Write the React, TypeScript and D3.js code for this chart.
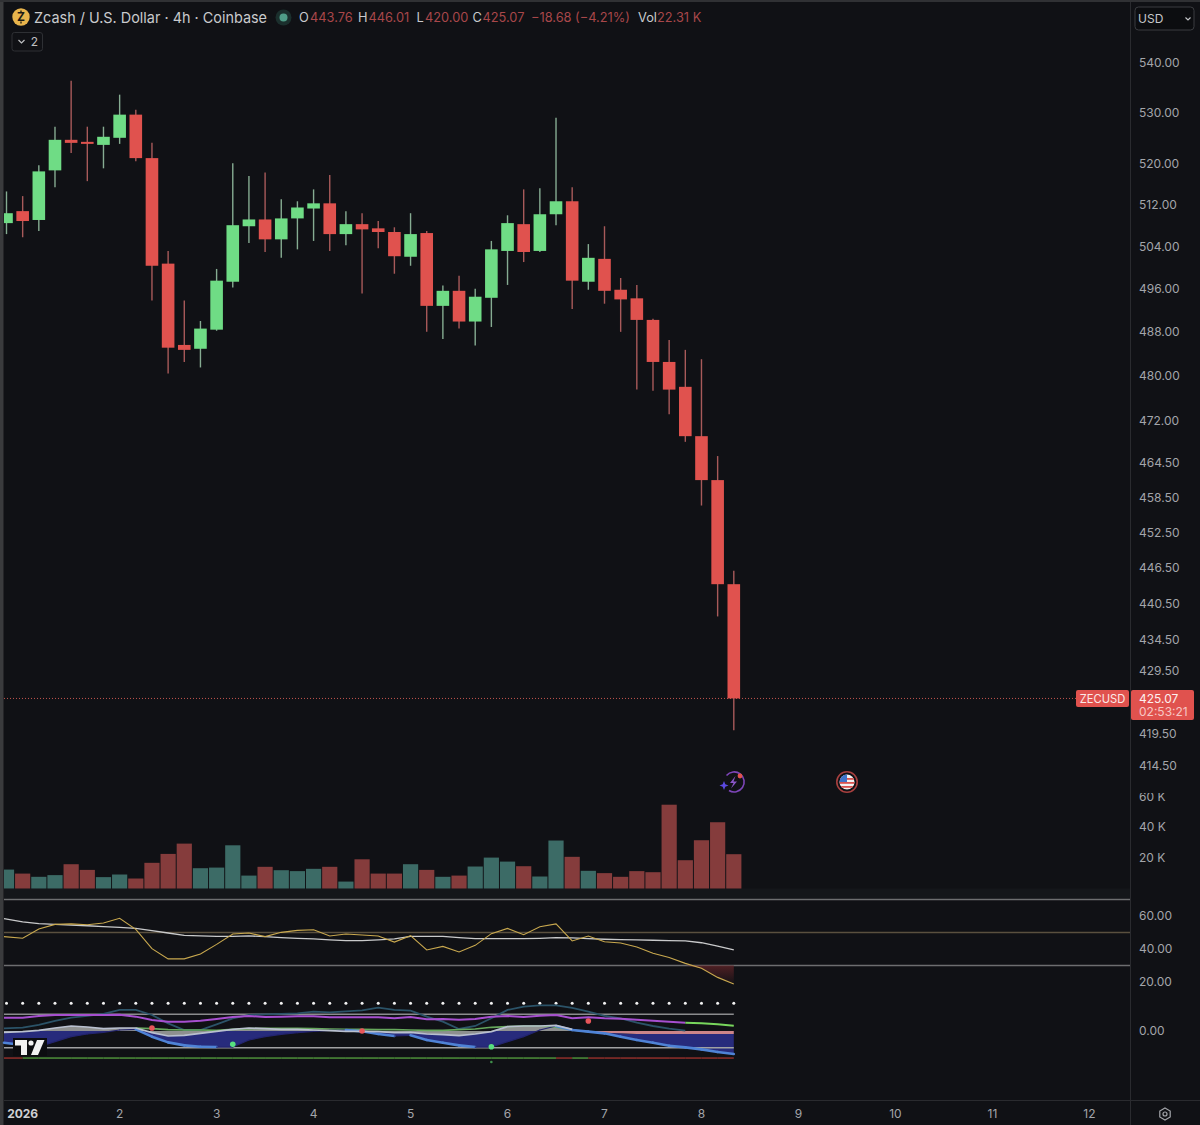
import React from 'react';
import * as d3 from 'd3';

// candles
const opens = [508.4, 510.7, 509.0, 518.6, 524.6, 524.2, 523.6, 525.0, 529.6, 521.0, 500.7, 485.6, 484.9, 488.4, 497.3, 507.8, 509.1, 505.3, 509.3, 511.2, 512.2, 506.3, 508.2, 507.4, 506.7, 502.0, 506.5, 492.8, 495.6, 489.9, 494.3, 503.1, 508.2, 503.1, 510.1, 512.6, 497.3, 501.6, 495.8, 494.2, 490.2, 482.5, 478.0, 469.2, 461.5, 443.76];
const highs = [514.5, 513.6, 519.6, 527.2, 536.4, 527.2, 527.2, 533.6, 530.6, 524.0, 503.1, 493.8, 490.0, 499.7, 520.0, 517.5, 518.2, 513.0, 512.6, 514.9, 517.7, 510.7, 510.3, 508.8, 507.6, 510.3, 506.9, 496.6, 498.4, 496.0, 505.0, 509.9, 514.9, 515.1, 529.0, 515.3, 504.4, 507.8, 498.0, 496.7, 490.4, 486.5, 484.7, 483.0, 465.7, 446.01];
const lows = [506.3, 505.7, 506.9, 515.3, 522.0, 516.5, 519.0, 523.8, 520.4, 493.8, 480.4, 482.5, 481.5, 488.2, 496.2, 504.6, 502.9, 501.8, 503.4, 505.0, 503.1, 504.2, 495.1, 503.6, 498.8, 500.3, 488.0, 486.7, 488.6, 485.5, 488.9, 496.7, 501.0, 502.9, 508.0, 492.2, 495.8, 493.2, 488.0, 477.5, 477.3, 473.1, 468.2, 457.1, 438.4, 420.0];
const closes = [510.3, 508.8, 518.4, 524.6, 524.0, 523.8, 525.2, 529.6, 521.0, 500.3, 485.1, 484.7, 488.6, 497.5, 508.0, 509.1, 505.3, 509.3, 511.4, 512.2, 506.3, 508.2, 507.2, 506.7, 502.1, 506.3, 492.8, 495.6, 489.9, 494.5, 503.4, 508.4, 502.9, 510.1, 512.6, 497.5, 501.8, 495.6, 494.0, 490.2, 482.5, 477.5, 469.2, 461.5, 443.76, 425.07];
const volumes = [12.3, 9.7, 7.6, 8.7, 15.8, 12.1, 7.4, 9.1, 6.5, 16.7, 22.5, 29.2, 13.2, 13.6, 28.1, 8.4, 14.1, 11.9, 11.3, 12.8, 14.1, 4.5, 19.0, 9.7, 9.7, 15.8, 12.1, 7.6, 8.4, 14.3, 20.1, 17.5, 14.5, 7.8, 31.2, 20.6, 11.5, 10.0, 7.6, 11.3, 10.6, 54.5, 18.4, 31.4, 43.1, 22.31];

// rsi pane
const rsi = [47.5, 46.5, 52.1, 54.9, 55.2, 54.7, 55.8, 58.6, 51.9, 40.2, 34.0, 34.0, 37.0, 42.8, 49.1, 49.7, 47.5, 50.1, 51.3, 51.7, 47.9, 49.1, 48.5, 47.9, 44.2, 48.1, 39.4, 41.6, 38.2, 42.2, 49.3, 52.5, 48.7, 53.5, 55.2, 44.9, 47.9, 44.4, 43.6, 41.2, 37.4, 34.8, 31.3, 28.3, 22.8, 18.8];
const rsiMa = [58.4, 56.4, 55.4, 54.9, 54.5, 54.1, 53.5, 53.1, 52.5, 51.1, 49.7, 48.3, 47.9, 47.7, 47.7, 47.9, 47.5, 46.9, 46.5, 46.1, 45.5, 45.1, 45.1, 45.5, 46.1, 47.7, 47.7, 47.7, 46.9, 46.3, 46.3, 46.3, 46.3, 46.5, 46.9, 46.7, 46.3, 45.9, 45.7, 45.5, 45.3, 45.1, 44.9, 43.8, 41.8, 39.4];

// oscillator pane
const purpleLine = [40, 40, 45, 48, 48, 48, 48, 49, 43, 33, 28, 28, 31, 36, 42, 45, 42, 43, 44, 44, 41, 41, 41, 41, 38, 42, 35, 36, 34, 36, 43, 45, 42, 46, 48, 38, 41, 38, 37, 34, 31, 28, 25, 23, 20, 16];
const tealLine = [8, 10, 18, 30, 40, 45, 51, 63, 63, 48, 23, 3, 3, 20, 38, 48, 50, 51, 53, 58, 56, 59, 62, 70, 63, 61, 43, 28, 6, 15, 38, 63, 73, 77, 77, 69, 58, 45, 38, 25, 15, 7, 1];
const blueLine = [-35, -42, -47, -32, -17, -9, -4, 3, 5, -17, -34, -43, -47, -48, -48, -27, -17, -10, -5, -1, 2, 3, -1, -9, -15, -13, -27, -35, -43, -48, -48, -32, -17, 3, 15, 3, -2, -7, -17, -27, -35, -44, -49, -55, -63, -69];
const paleLine = [-4, -2, 2, 9, 15, 12, 7, 9, 9, -5, -15, -13, -7, -1, 5, 9, 7, 5, 5, 3, 1, -1, -1, -2, -5, -4, -9, -11, -14, -9, -2, 13, 15, 15, 17, 5, -2, -5, -7, -9, -9, -9, -9, -9, -9, -9];
const greenLine = [null, null, null, null, null, null, null, null, 9, 7, 4, 3, 3, 2, 5, 7, 8, 8, 8, 7, 6, 5, 5, 4, 4, 3, 2, 2, 4, 6, 11, 13, 15, 15, 11, 3, -2];
const trend = 'rgggggggggggggggggggggggggggggggggrgrrrrrrrrrr';
const redSignals = [[9, 9], [22, 0], [36, 30]];
const greenSignals = [[14, -40], [30, -47]];

const priceTicks = [540, 530, 520, 512, 504, 496, 488, 480, 472, 464.5, 458.5, 452.5, 446.5, 440.5, 434.5, 429.5, 419.5, 414.5];
const volumeTicks = [60, 40, 20];
const rsiTicks = [60, 40, 20];
const rsiBands = [70, 50, 30];
const dayLabels = [[1, '2026'], [7, '2'], [13, '3'], [19, '4'], [25, '5'], [31, '6'], [37, '7'], [43, '8'], [49, '9'], [55, '10'], [61, '11'], [67, '12']] as const;

const BG = '#101115';
const UP = '#6fdc85';
const DOWN = '#e0524e';
const FONT = 'Inter, "Noto Sans", sans-serif';
const LEFT = 4; // pane edge, the series run off it

export default function App() {
  const x = d3.scaleLinear().domain([0, 45]).range([6.5, 733.8]);
  const priceY = d3.scaleLog().domain([414.5, 540]).range([765.3, 63]);
  const volY = d3.scaleLinear().domain([0, 40]).range([888.5, 827]);
  const rsiY = d3.scaleLinear().domain([60, 20]).range([916, 982]);
  const oscY = d3.scaleLinear().domain([-50, 50]).range([1047.7, 1014.3]);

  const indexes = d3.range(closes.length);
  const edgeX = (i: number) => (i === 0 ? LEFT : x(i));
  const lineOf = (scale: (v: number) => number) =>
    d3.line<number | null>()
      .defined(d => d !== null)
      .x((_, i) => edgeX(i))
      .y(d => scale(d as number));

  const rsiLine = lineOf(rsiY);
  const oscLine = lineOf(oscY);

  const under30 = d3.area<number>()
    .defined(i => rsi[i] < 30 || rsi[i + 1] < 30)
    .x(i => x(i))
    .y0(rsiY(30))
    .y1(i => rsiY(Math.min(rsi[i], 30)));

  const navyArea = d3.area<number>()
    .x(i => edgeX(i))
    .y0(i => oscY(paleLine[i]))
    .y1(i => oscY(blueLine[i]));
  const histArea = d3.area<number>()
    .x(i => edgeX(i))
    .y0(oscY(0))
    .y1(i => oscY(paleLine[i]));

  const segments = indexes.slice(0, -1);

  return (
    <svg width={1200} height={1125} style={{ position: 'absolute', left: 0, top: 0, display: 'block' }} fontFamily={FONT}>
      <defs>
        <linearGradient id="oversold" x1="0" y1="0" x2="0" y2="1">
          <stop offset="0" stopColor="#5a2226" stopOpacity={0.85} />
          <stop offset="1" stopColor="#5a2226" stopOpacity={0.05} />
        </linearGradient>
        <clipPath id="volTicks"><rect x={1131} y={793} width={69} height={100} /></clipPath>
        <clipPath id="flagClip"><circle cx={847} cy={782} r={7.5} /></clipPath>
      </defs>

      <rect width={1200} height={1125} fill={BG} />
      <rect width={3.5} height={1125} fill="#3a3b3d" />
      <rect width={1200} height={2} fill="#303134" />
      <rect x={4} y={888.5} width={1126} height={10} fill="#14161a" />

      {/* volume */}
      {volumes.map((v, i) => (
        <rect
          key={`vol-${i}`}
          x={Math.max(x(i) - 7.6, LEFT)}
          y={volY(v)}
          width={x(i) + 7.6 - Math.max(x(i) - 7.6, LEFT)}
          height={volY(0) - volY(v)}
          fill={closes[i] >= opens[i] ? '#3c6b66' : '#853c3c'}
        />
      ))}

      {/* last price line */}
      <line x1={LEFT} x2={1076} y1={priceY(425.07)} y2={priceY(425.07)} stroke="#c2544f" strokeWidth={1} strokeDasharray="1,2" />

      {/* candles */}
      {indexes.map(i => {
        const up = closes[i] >= opens[i];
        const top = priceY(Math.max(opens[i], closes[i]));
        const bottom = priceY(Math.min(opens[i], closes[i]));
        const left = Math.max(x(i) - 6.3, LEFT);
        return (
          <g key={`candle-${i}`}>
            <line x1={x(i)} x2={x(i)} y1={priceY(highs[i])} y2={priceY(lows[i])} stroke={up ? '#86ac92' : '#a85a5a'} strokeWidth={1.4} />
            <rect x={left} y={top} width={x(i) + 6.3 - left} height={Math.max(bottom - top, 2)} fill={up ? UP : DOWN} />
          </g>
        );
      })}

      {/* rsi pane */}
      {rsiBands.map(b => (
        <line key={`band-${b}`} x1={LEFT} x2={1130} y1={rsiY(b)} y2={rsiY(b)} stroke={b === 50 ? '#5a503f' : '#6d6e70'} strokeWidth={1.3} />
      ))}
      <path d={under30(indexes.slice(41)) || ''} fill="url(#oversold)" />
      <path d={rsiLine(rsiMa) || ''} fill="none" stroke="#c9cacb" strokeWidth={1.3} />
      <path d={rsiLine(rsi) || ''} fill="none" stroke="#c9a94f" strokeWidth={1.1} />

      {/* oscillator pane */}
      {indexes.map(i => (
        <circle key={`dot-${i}`} cx={x(i)} cy={oscY(83)} r={1.5} fill="#f2f2f2" />
      ))}
      <path d={navyArea(indexes) || ''} fill="#272b7c" />
      <path d={histArea(indexes.slice(0, 36)) || ''} fill="#8e9090" />
      <path d={histArea(indexes.slice(35)) || ''} fill="#cc8589" />
      <line x1={LEFT} x2={x(45)} y1={oscY(50)} y2={oscY(50)} stroke="#8b8c8e" strokeWidth={1.6} />
      <line x1={LEFT} x2={x(45)} y1={oscY(-50)} y2={oscY(-50)} stroke="#a0a1a3" strokeWidth={1.6} />
      <path d={oscLine(tealLine) || ''} fill="none" stroke="#2b5368" strokeWidth={1.8} />
      <path d={oscLine(purpleLine.slice(0, 43)) || ''} fill="none" stroke="#a64fcf" strokeWidth={2} />
      <path
        d={d3.line<number>().x(i => x(i)).y(i => oscY(purpleLine[i]))(d3.range(42, 46)) || ''}
        fill="none"
        stroke="#78d65c"
        strokeWidth={2}
      />
      <path d={oscLine(greenLine) || ''} fill="none" stroke="#66a85c" strokeWidth={1.6} />
      {segments.map(i => (
        <line
          key={`blue-${i}`}
          x1={edgeX(i)}
          x2={x(i + 1)}
          y1={oscY(blueLine[i])}
          y2={oscY(blueLine[i + 1])}
          stroke={blueLine[i + 1] < blueLine[i] ? '#4f83d6' : '#23246e'}
          strokeWidth={blueLine[i + 1] < blueLine[i] ? 2.6 : 1.2}
          strokeLinecap="round"
        />
      ))}
      <path d={oscLine(paleLine.slice(0, 36)) || ''} fill="none" stroke="#b9c0cf" strokeWidth={1.7} />
      {segments.map(i => (
        <line
          key={`trend-${i}`}
          x1={edgeX(i)}
          x2={x(i + 1)}
          y1={oscY(-81)}
          y2={oscY(-81)}
          stroke={trend[i] === 'r' ? '#8f2f2a' : '#4e8f3a'}
          strokeWidth={1.5}
        />
      ))}
      {redSignals.map(([i, v]) => (
        <circle key={`rs-${i}`} cx={x(i)} cy={oscY(v)} r={2.8} fill="#e8565a" />
      ))}
      {greenSignals.map(([i, v]) => (
        <circle key={`gs-${i}`} cx={x(i)} cy={oscY(v)} r={2.8} fill="#57e07f" />
      ))}
      <circle cx={x(30)} cy={oscY(-93)} r={1.3} fill="#3f8f4a" />

      {/* tradingview mark */}
      <rect x={13} y={1038} width={34} height={18} fill="#0c0d10" />
      <path d="M15 1040 H27 V1055 H21 V1045.5 H15 Z" fill="#f2f2f2" />
      <circle cx={31} cy={1043} r={2.6} fill="#f2f2f2" />
      <path d="M37 1040 H44.5 L38 1055 H31 Z" fill="#f2f2f2" />

      {/* axes */}
      <line x1={1130.5} x2={1130.5} y1={2} y2={1125} stroke="#2a2b2f" />
      <line x1={LEFT} x2={1200} y1={1100.5} y2={1100.5} stroke="#2a2b2f" />

      {priceTicks.map(t => (
        <text key={`p-${t}`} x={1139} y={priceY(t)} dy="0.36em" fontSize={12} fill="#a3a5aa">{t.toFixed(2)}</text>
      ))}
      <g clipPath="url(#volTicks)">
        {volumeTicks.map(t => (
          <text key={`v-${t}`} x={1139} y={volY(t)} dy="0.36em" fontSize={12} fill="#a3a5aa">{`${t} K`}</text>
        ))}
      </g>
      {rsiTicks.map(t => (
        <text key={`r-${t}`} x={1139} y={rsiY(t)} dy="0.36em" fontSize={12} fill="#a3a5aa">{t.toFixed(2)}</text>
      ))}
      <text x={1139} y={oscY(0)} dy="0.36em" fontSize={12} fill="#a3a5aa">0.00</text>

      {dayLabels.map(([i, label]) => (
        <text
          key={`d-${label}`}
          x={x(i)}
          y={1114}
          dy="0.36em"
          textAnchor="middle"
          fontSize={12}
          fontWeight={label === '2026' ? 700 : 400}
          fill={label === '2026' ? '#d0d1d4' : '#a3a5aa'}
        >
          {label}
        </text>
      ))}

      {/* gear */}
      <path d="M1165 1108 L1170.2 1111 V1117 L1165 1120 L1159.8 1117 V1111 Z" fill="none" stroke="#a3a5aa" strokeWidth={1.2} />
      <circle cx={1165} cy={1114} r={2} fill="none" stroke="#a3a5aa" strokeWidth={1.2} />

      {/* price tags */}
      <rect x={1076} y={690} width={53} height={17} rx={2} fill={DOWN} />
      <text x={1102.5} y={698.5} dy="0.36em" textAnchor="middle" fontSize={11.2} fill="#fbe9e8">ZECUSD</text>
      <rect x={1131} y={690} width={63} height={30} rx={2} fill={DOWN} />
      <text x={1139} y={698.5} dy="0.36em" fontSize={12} fill="#fdf0ef">425.07</text>
      <text x={1139} y={712} dy="0.36em" fontSize={12} fill="#f7c7c4">02:53:21</text>

      {/* currency box */}
      <rect x={1135} y={7} width={59} height={23} rx={3.5} fill="#0c0d10" stroke="#3b3d41" />
      <text x={1138} y={18.5} dy="0.36em" fontSize={12} fill="#c6c7ca">USD</text>
      <path d="M1185.5 17.5 L1188 20 L1190.5 17.5" fill="none" stroke="#c6c7ca" strokeWidth={1.1} />

      {/* header */}
      <circle cx={21} cy={17} r={8.7} fill="#e8b44c" />
      <text x={21} y={17} dy="0.36em" textAnchor="middle" fontSize={12} fontWeight={700} fill="#1b1a14">Z</text>
      <line x1={21} x2={21} y1={10.5} y2={23.5} stroke="#1b1a14" strokeWidth={1.3} strokeDasharray="2,9" />
      <text x={34} y={17.5} dy="0.36em" fontSize={15} textLength={233} lengthAdjust="spacingAndGlyphs" fill="#c9cacd">Zcash / U.S. Dollar · 4h · Coinbase</text>
      <circle cx={283.5} cy={17.5} r={8} fill="#1b2f2d" />
      <circle cx={283.5} cy={17.5} r={4} fill="#4f9d88" />
      <text x={299} y={17.5} dy="0.36em" fontSize={12.8} fill="#c9cacd">O</text>
      <text x={310} y={17.5} dy="0.36em" fontSize={12.8} fill="#a8474a">443.76</text>
      <text x={358} y={17.5} dy="0.36em" fontSize={12.8} fill="#c9cacd">H</text>
      <text x={368.5} y={17.5} dy="0.36em" fontSize={12.8} fill="#a8474a">446.01</text>
      <text x={416.5} y={17.5} dy="0.36em" fontSize={12.8} fill="#c9cacd">L</text>
      <text x={425} y={17.5} dy="0.36em" fontSize={12.8} fill="#a8474a">420.00</text>
      <text x={472.5} y={17.5} dy="0.36em" fontSize={12.8} fill="#c9cacd">C</text>
      <text x={482.5} y={17.5} dy="0.36em" fontSize={12.8} fill="#a8474a">425.07</text>
      <text x={531} y={17.5} dy="0.36em" fontSize={12.8} fill="#a8474a">−18.68 (−4.21%)</text>
      <text x={638} y={17.5} dy="0.36em" fontSize={12.8} fill="#c9cacd">Vol</text>
      <text x={657} y={17.5} dy="0.36em" fontSize={12.8} fill="#a8474a">22.31 K</text>

      <rect x={12} y={32.5} width={30.5} height={18.5} rx={2.5} fill="none" stroke="#2e3034" />
      <path d="M18.5 40 L21.5 43 L24.5 40" fill="none" stroke="#bfc0c3" strokeWidth={1.2} />
      <text x={34.5} y={42} dy="0.36em" textAnchor="middle" fontSize={12} fill="#bfc0c3">2</text>

      {/* event markers */}
      <path d="M726.5 775.5 A10 10 0 1 1 729 790.5" fill="none" stroke="#7d45b8" strokeWidth={1.6} />
      <path d="M735.5 776 L730 783 L733.5 783 L731 788.5 L737 781.5 L733.5 781.5 Z" fill="#8a55c8" />
      <path d="M724 781 L725.3 784.2 L728.5 785.5 L725.3 786.8 L724 790 L722.7 786.8 L719.5 785.5 L722.7 784.2 Z" fill="#5b4ae0" />
      <circle cx={740} cy={776} r={2.4} fill="#e0524e" />

      <circle cx={847} cy={782} r={10.2} fill="none" stroke="#a8403f" strokeWidth={1.6} />
      <g clipPath="url(#flagClip)">
        <rect x={839} y={774} width={16} height={16} fill="#f3f3f3" />
        <rect x={839} y={778} width={16} height={1.8} fill="#d9534f" />
        <rect x={839} y={782} width={16} height={1.8} fill="#d9534f" />
        <rect x={839} y={786} width={16} height={1.8} fill="#d9534f" />
        <rect x={839} y={774} width={8} height={8} fill="#3f73c9" />
      </g>
    </svg>
  );
}
